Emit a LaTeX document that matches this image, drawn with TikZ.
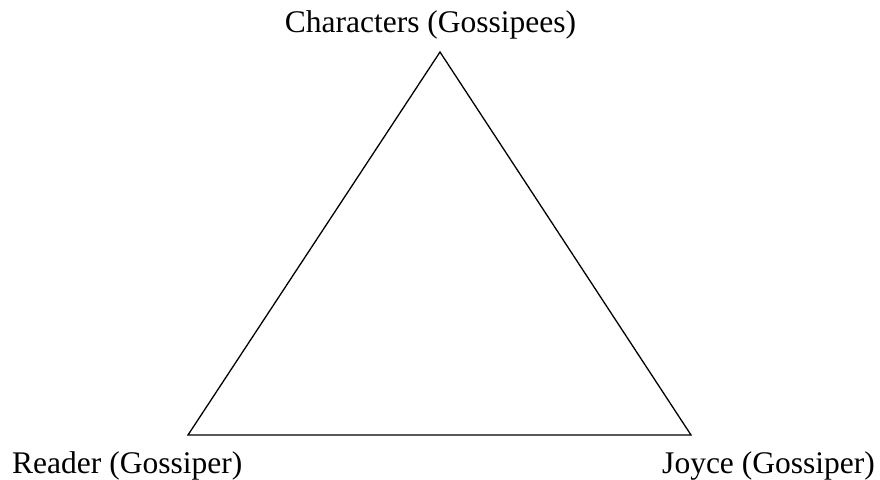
\documentclass[tikz,border=0pt]{standalone}
\usepackage{fontspec}
\setmainfont{Liberation Serif}
\begin{document}
\begin{tikzpicture}[x=1pt,y=1pt,
  lbl/.style={inner sep=0pt,font=\fontsize{31.5}{36}\selectfont},
  edge/.style={line width=1.3pt,line join=miter}]
\useasboundingbox (0,0) rectangle (880,479);
\coordinate (apex) at (440,427);
\coordinate (bl) at (188,44);
\coordinate (br) at (691,44);
\draw[edge] (apex) -- (bl) -- (br) -- cycle;
\node[lbl,anchor=base] (chars) at (430.5,446) {Characters (Gossipees)};
\node[lbl,anchor=base west] (reader) at (12,6) {Reader (Gossiper)};
\node[lbl,anchor=base east] (joyce) at (875,6) {Joyce (Gossiper)};
\end{tikzpicture}
\end{document}
